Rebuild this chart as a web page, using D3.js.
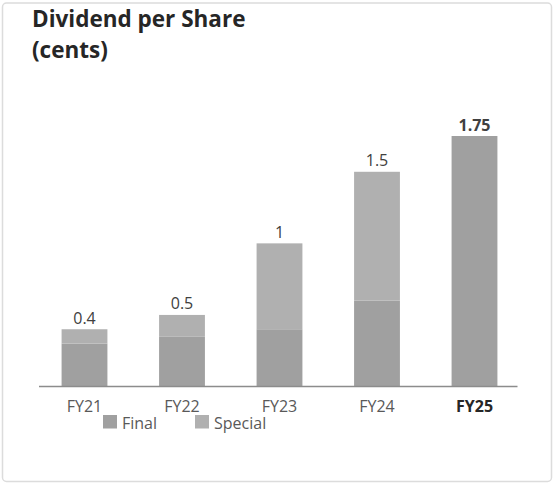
<!DOCTYPE html>
<html>
<head>
<meta charset="utf-8">
<script src="https://cdn.jsdelivr.net/npm/d3@7"></script>
<style>
  html, body { margin: 0; padding: 0; background: #fff; }
  svg { display: block; font-family: "Open Sans", sans-serif; }
</style>
</head>
<body>
<div id="chart"></div>
<script>
// data
const years = ["FY21", "FY22", "FY23", "FY24", "FY25"]
const finalVals = [0.3, 0.35, 0.4, 0.6, 1.75]
const specialVals = [0.1, 0.15, 0.6, 0.9, 0]
const totalLabels = ["0.4", "0.5", "1", "1.5", "1.75"]
const seriesNames = ["Final", "Special"]
const colors = {Final: "#a0a0a0", Special: "#b0b0b0"}

const width = 553, height = 483

const svg = d3.select("#chart")
    .append("svg")
    .attr("width", width)
    .attr("height", height)

// card border
svg.append("rect")
    .attr("x", 2.5).attr("y", 3)
    .attr("width", 549).attr("height", 478.5)
    .attr("rx", 4)
    .style("fill", "#fff")
    .style("stroke", "#dcdcdc")
    .style("stroke-width", 1.5)

// title
const title = svg.append("text")
    .attr("x", 32)
    .attr("y", 27)
    .style("font-size", "22.5px")
    .style("font-weight", "bold")
    .style("fill", "#262626")
title.append("tspan").attr("x", 32).text("Dividend per Share")
title.append("tspan").attr("x", 32).attr("dy", 31).text("(cents)")

const rows = years.map((y, i) => ({year: y, Final: finalVals[i], Special: specialVals[i], label: totalLabels[i]}))

const x = d3.scaleBand()
    .domain(years)
    .range([35.75, 523.25])
    .paddingInner(0.53)
    .paddingOuter(0.265)

const y = d3.scaleLinear()
    .domain([0, 1.75])
    .range([386.5, 136])

const stack = d3.stack().keys(seriesNames)(rows)

// bars
svg.selectAll("g.series")
    .data(stack)
    .enter()
    .append("g")
    .attr("class", "series")
    .style("fill", d => colors[d.key])
    .selectAll("rect")
    .data(d => d)
    .enter()
    .append("rect")
    .attr("x", d => x(d.data.year))
    .attr("y", d => y(d[1]))
    .attr("width", x.bandwidth())
    .attr("height", d => y(d[0]) - y(d[1]))

// total labels
svg.selectAll("text.total")
    .data(rows)
    .enter()
    .append("text")
    .attr("class", "total")
    .attr("x", d => x(d.year) + x.bandwidth() / 2)
    .attr("y", d => y(d.Final + d.Special) - 5.5)
    .attr("text-anchor", "middle")
    .style("font-size", "16px")
    .style("font-weight", d => d.year === "FY25" ? "bold" : "normal")
    .style("fill", "#404040")
    .text(d => d.label)

// x axis
const xAxis = svg.append("g")
    .attr("transform", "translate(0," + y(0) + ")")
    .call(d3.axisBottom(x).tickSize(0).tickPadding(14))
xAxis.select(".domain")
    .attr("d", "M39,0H517.5")
    .style("stroke", "#8c8c8c")
    .style("stroke-width", 1.5)
xAxis.selectAll(".tick text")
    .style("font-family", "Open Sans, sans-serif")
    .style("font-size", "16px")
    .style("fill", d => d === "FY25" ? "#262626" : "#595959")
    .style("font-weight", d => d === "FY25" ? "bold" : "normal")

// legend
const legendX = [103, 195]
const legend = svg.selectAll("g.legend")
    .data(seriesNames)
    .enter()
    .append("g")
    .attr("class", "legend")
    .attr("transform", (d, i) => "translate(" + legendX[i] + ",415)")
legend.append("rect")
    .attr("width", 14)
    .attr("height", 13.5)
    .style("fill", d => colors[d])
legend.append("text")
    .attr("x", 19)
    .attr("y", 13.5)
    .style("font-size", "16px")
    .style("fill", "#595959")
    .text(d => d)
</script>
</body>
</html>
